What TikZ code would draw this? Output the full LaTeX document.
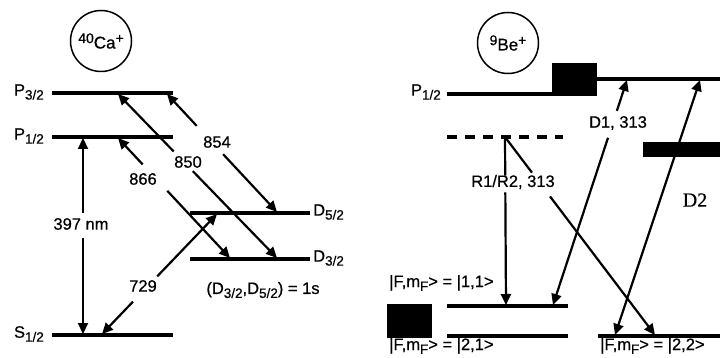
\documentclass[tikz,border=0pt]{standalone}
\usepackage{fontspec}
\setmainfont{Liberation Sans}[FakeBold=0.6]
\newfontfamily\serifD{Liberation Serif}[FakeBold=0.4]
\usetikzlibrary{arrows.meta,calc}
\newcommand\lowsub[1]{\raisebox{-0.45ex}{\fontsize{13.5}{14}\selectfont #1}}
\newcommand\highsup[1]{\raisebox{0.6ex}{\fontsize{14}{14}\selectfont #1}}
\begin{document}
\begin{tikzpicture}[x=1pt,y=-1pt,
  lvline/.style={line width=4pt},
  trans/.style={line width=2.2pt},
  headend/.style={-{Triangle[length=11pt,width=10pt]}},
  headstart/.style={{Triangle[length=11pt,width=10pt]}-},
  headboth/.style={{Triangle[length=11pt,width=10pt]}-{Triangle[length=11pt,width=10pt]}},
  lbl/.style={font=\fontsize{16.5}{18}\selectfont, inner sep=0pt},
  ion/.style={circle, draw, line width=1.5pt, minimum size=61pt, inner sep=0pt, font=\fontsize{17}{18}\selectfont},
  blk/.style={fill=black, draw=none}
]
\useasboundingbox (0,0) rectangle (720,358);

% ---------------- Ca+ ----------------
\node[ion] (ca) at (101,41) {\highsup{40}Ca\highsup{+}};

\coordinate (P32a) at (52,93);  \coordinate (P32b) at (173,93);
\coordinate (P12a) at (52,137); \coordinate (P12b) at (173,137);
\coordinate (S12a) at (52,335); \coordinate (S12b) at (173,335);
\coordinate (D52a) at (190,213); \coordinate (D52b) at (310,213);
\coordinate (D32a) at (190,259); \coordinate (D32b) at (310,259);

% transition end points
\coordinate (t397a) at (83,138);  \coordinate (t397b) at (83,334);
\coordinate (t854a) at (167,94);  \coordinate (t854b) at (277,212);
\coordinate (t850a) at (118,94);  \coordinate (t850b) at (277,258);
\coordinate (t866a) at (118,138); \coordinate (t866b) at (230,258);
\coordinate (t729a) at (102,334); \coordinate (t729b) at (217,214);

\draw[trans,headstart] (t397a) -- ($(t397a)!0.384!(t397b)$);
\draw[trans,headend] ($(t397a)!0.51!(t397b)$) -- (t397b);
\draw[trans,headstart] (t854a) -- ($(t854a)!0.27!(t854b)$);
\draw[trans,headend] ($(t854a)!0.51!(t854b)$) -- (t854b);
\draw[trans,headstart] (t850a) -- ($(t850a)!0.35!(t850b)$);
\draw[trans,headend] ($(t850a)!0.47!(t850b)$) -- (t850b);
\draw[trans,headstart] (t866a) -- ($(t866a)!0.22!(t866b)$);
\draw[trans,headend] ($(t866a)!0.44!(t866b)$) -- (t866b);
\draw[trans,headstart] (t729a) -- ($(t729a)!0.27!(t729b)$);
\draw[trans,headend] ($(t729a)!0.48!(t729b)$) -- (t729b);

\draw[lvline] (P32a) -- (P32b);
\draw[lvline] (P12a) -- (P12b);
\draw[lvline] (S12a) -- (S12b);
\draw[lvline] (D52a) -- (D52b);
\draw[lvline] (D32a) -- (D32b);

\node[lbl,anchor=east] (lP32) at (44,92) {P\lowsub{3/2}};
\node[lbl,anchor=east] (lP12) at (44,136) {P\lowsub{1/2}};
\node[lbl,anchor=east] (lS12) at (44,334) {S\lowsub{1/2}};
\node[lbl,anchor=west] (lD52) at (313,212) {D\lowsub{5/2}};
\node[lbl,anchor=west] (lD32) at (313,258) {D\lowsub{3/2}};

\node[lbl] (n397) at (81,224) {397 nm};
\node[lbl] (n854) at (217,142) {854};
\node[lbl] (n850) at (188,162) {850};
\node[lbl] (n866) at (143,179) {866};
\node[lbl] (n729) at (143,286) {729};
\node[lbl] (life) at (263,290) {(D\lowsub{3/2},D\lowsub{5/2}) = 1s};

% ---------------- Be+ ----------------
\node[ion] (be) at (508,43) {\highsup{9}Be\highsup{+}};

\coordinate (BP1a) at (447,94); \coordinate (BP1b) at (552,94);
\coordinate (BP2a) at (597,79); \coordinate (BP2b) at (720,79);
\coordinate (virtA) at (447,137); \coordinate (virtB) at (563,137);
\coordinate (L11a) at (447,306); \coordinate (L11b) at (568,306);
\coordinate (L21a) at (447,336); \coordinate (L21b) at (568,336);
\coordinate (L22a) at (598,336); \coordinate (L22b) at (720,336);

\coordinate (rva) at (505,137); \coordinate (rvb) at (506,305);
\coordinate (rda) at (505,137); \coordinate (rdb) at (655,335);
\coordinate (d1a) at (553,305); \coordinate (d1b) at (627,80);
\coordinate (d2a) at (615,335); \coordinate (d2b) at (700,80);

\draw[trans] (rva) -- ($(rva)!0.23!(rvb)$);
\draw[trans,headend] ($(rva)!0.33!(rvb)$) -- (rvb);
\draw[trans] (rda) -- ($(rda)!0.18!(rdb)$);
\draw[trans,headend] ($(rda)!0.30!(rdb)$) -- (rdb);
\draw[trans,headstart] (d1a) -- ($(d1a)!0.743!(d1b)$);
\draw[trans,headend] ($(d1a)!0.863!(d1b)$) -- (d1b);
\draw[trans,headboth] (d2a) -- (d2b);

\draw[lvline] (BP1a) -- (BP1b);
\draw[lvline,line width=3.5pt] (BP2a) -- (BP2b);
\draw[line width=3.5pt,dash pattern=on 10pt off 8pt] (virtA) -- (virtB);
\draw[lvline] (L11a) -- (L11b);
\draw[lvline] (L21a) -- (L21b);
\draw[lvline] (L22a) -- (L22b);

\path[blk] (552,63) rectangle (597,96);
\path[blk] (643,142) rectangle (720,157);
\path[blk] (387,304) rectangle (432,338);

\node[lbl,anchor=east] (lBP) at (441,92) {P\lowsub{1/2}};
\node[lbl] (nR) at (513,182) {R1/R2, 313};
\node[lbl] (nD1) at (618,123) {D1, 313};
\node[font=\serifD\fontsize{20}{20}\selectfont, inner sep=0pt] (nD2) at (695,200) {D2};
\node[lbl,anchor=west] (l11) at (389,283) {|F,m\lowsub{F}> = |1,1>};
\node[lbl,anchor=west] (l21) at (389,346) {|F,m\lowsub{F}> = |2,1>};
\node[lbl,anchor=west] (l22) at (600,346) {|F,m\lowsub{F}> = |2,2>};
\end{tikzpicture}
\end{document}
